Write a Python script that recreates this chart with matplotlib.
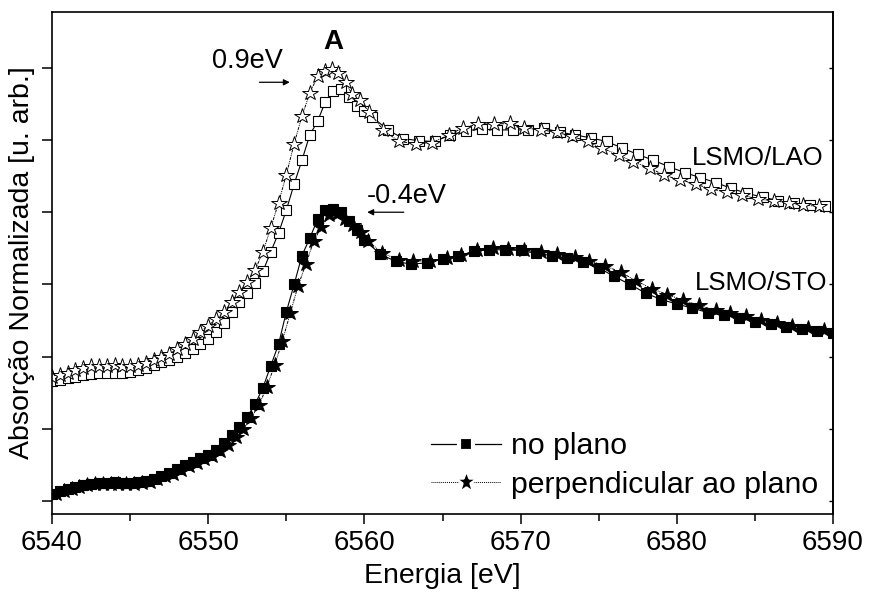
import matplotlib
matplotlib.use("Agg")
import matplotlib.pyplot as plt
from matplotlib.lines import Line2D

plt.rcParams['font.family'] = ['Liberation Sans', 'DejaVu Sans']

# ---- data ----
sto_plano_x = [6540.0, 6540.5, 6541.0, 6541.5, 6542.0, 6542.5, 6543.0, 6543.5, 6544.0, 6544.5,
               6545.0, 6545.5, 6546.0, 6546.5, 6547.0, 6547.5, 6548.0, 6548.5, 6549.0, 6549.5,
               6550.0, 6550.5, 6551.0, 6551.5, 6552.0, 6552.5, 6553.0, 6553.5, 6554.0, 6554.5,
               6555.0, 6555.5, 6556.0, 6556.5, 6557.0, 6557.5, 6558.0, 6558.5, 6559.0, 6559.5,
               6560.0, 6561.0, 6562.0, 6563.0, 6564.0, 6565.0, 6566.0, 6567.0, 6568.0, 6569.0,
               6570.0, 6571.0, 6572.0, 6573.0, 6574.0, 6575.0, 6576.0, 6577.0, 6578.0, 6579.0,
               6580.0, 6581.0, 6582.0, 6583.0, 6584.0, 6585.0, 6586.0, 6587.0, 6588.0, 6589.0, 6590.0]
sto_plano_y = [0.10, 0.14, 0.17, 0.20, 0.22, 0.24, 0.25, 0.25, 0.26, 0.25,
               0.25, 0.26, 0.28, 0.31, 0.35, 0.39, 0.44, 0.50, 0.54, 0.59,
               0.64, 0.71, 0.80, 0.91, 1.03, 1.17, 1.34, 1.57, 1.87, 2.17,
               2.62, 3.00, 3.40, 3.64, 3.90, 4.03, 4.05, 4.01, 3.88, 3.75,
               3.62, 3.42, 3.32, 3.28, 3.30, 3.35, 3.39, 3.46, 3.48, 3.48,
               3.47, 3.43, 3.40, 3.36, 3.31, 3.23, 3.11, 3.00, 2.88, 2.79,
               2.73, 2.67, 2.61, 2.57, 2.54, 2.48, 2.45, 2.41, 2.38, 2.36, 2.33]

sto_perp_x = [6540.25, 6540.75, 6541.25, 6541.75, 6542.25, 6542.75, 6543.25, 6543.75, 6544.25, 6544.75,
              6545.25, 6545.75, 6546.25, 6546.75, 6547.25, 6547.75, 6548.25, 6548.75, 6549.25, 6549.75,
              6550.25, 6550.75, 6551.25, 6551.75, 6552.25, 6552.75, 6553.25, 6553.75, 6554.25, 6554.75,
              6555.25, 6555.75, 6556.25, 6556.75, 6557.25, 6557.75, 6558.25, 6558.75, 6559.25, 6559.75,
              6560.25, 6561.1, 6562.2, 6563.1, 6564.2, 6565.3, 6566.2, 6567.2, 6568.2, 6569.2,
              6570.2, 6571.3, 6572.3, 6573.5, 6574.4, 6575.4, 6576.4, 6577.4, 6578.4, 6579.4,
              6580.4, 6581.4, 6582.5, 6583.4, 6584.4, 6585.4, 6586.4, 6587.4, 6588.4, 6589.4]
sto_perp_y = [0.10, 0.14, 0.17, 0.20, 0.22, 0.23, 0.24, 0.24, 0.24, 0.24,
              0.24, 0.25, 0.27, 0.30, 0.34, 0.38, 0.43, 0.48, 0.53, 0.58,
              0.63, 0.69, 0.78, 0.88, 1.00, 1.15, 1.33, 1.58, 1.88, 2.22,
              2.60, 2.98, 3.28, 3.60, 3.80, 3.96, 3.97, 3.90, 3.82, 3.73,
              3.60, 3.44, 3.34, 3.32, 3.33, 3.36, 3.41, 3.47, 3.50, 3.49,
              3.47, 3.45, 3.42, 3.38, 3.33, 3.26, 3.17, 3.05, 2.94, 2.86,
              2.78, 2.71, 2.64, 2.60, 2.56, 2.51, 2.46, 2.42, 2.40, 2.37]

lao_plano_x = [6540.0, 6540.5, 6541.0, 6541.5, 6542.0, 6542.5, 6543.0, 6543.5, 6544.0, 6544.5,
               6545.0, 6545.5, 6546.0, 6546.5, 6547.0, 6547.5, 6548.0, 6548.5, 6549.0, 6549.5,
               6550.0, 6550.5, 6551.0, 6551.5, 6552.0, 6552.5, 6553.0, 6553.5, 6554.0, 6554.5,
               6555.0, 6555.5, 6556.0, 6556.5, 6557.0, 6557.5, 6558.0, 6558.5, 6559.0, 6559.5,
               6560.0, 6560.5, 6561.5, 6562.5, 6563.5, 6564.5, 6565.5, 6566.5, 6567.5, 6568.5,
               6569.5, 6570.5, 6571.5, 6572.5, 6573.5, 6574.5, 6575.5, 6576.5, 6577.5, 6578.5,
               6579.5, 6580.5, 6581.5, 6582.5, 6583.5, 6584.5, 6585.5, 6586.5, 6587.5, 6588.5, 6589.5]
lao_plano_y = [1.66, 1.68, 1.70, 1.72, 1.74, 1.76, 1.77, 1.77, 1.78, 1.78,
               1.79, 1.81, 1.84, 1.88, 1.92, 1.96, 2.00, 2.05, 2.10, 2.17,
               2.25, 2.34, 2.46, 2.62, 2.76, 2.88, 3.02, 3.18, 3.45, 3.71,
               4.03, 4.39, 4.72, 5.07, 5.26, 5.53, 5.68, 5.70, 5.59, 5.47,
               5.40, 5.32, 5.14, 5.02, 4.99, 4.98, 5.07, 5.13, 5.15, 5.14,
               5.14, 5.14, 5.16, 5.11, 5.07, 5.03, 4.98, 4.89, 4.80, 4.72,
               4.63, 4.55, 4.48, 4.41, 4.33, 4.26, 4.21, 4.16, 4.13, 4.10, 4.08]

lao_perp_x = [6540.0, 6540.5, 6541.0, 6541.5, 6542.0, 6542.5, 6543.0, 6543.5, 6544.0, 6544.5,
              6545.0, 6545.5, 6546.0, 6546.5, 6547.0, 6547.5, 6548.0, 6548.5, 6549.0, 6549.5,
              6550.0, 6550.5, 6551.0, 6551.5, 6552.0, 6552.5, 6553.0, 6553.5, 6554.0, 6554.5,
              6555.0, 6555.5, 6556.0, 6556.5, 6557.0, 6557.5, 6557.9, 6558.3, 6558.8, 6559.2,
              6559.7, 6560.3, 6561.2, 6562.2, 6563.3, 6564.3, 6565.4, 6566.3, 6567.3, 6568.3,
              6569.3, 6570.2, 6571.3, 6572.3, 6573.3, 6574.3, 6575.2, 6576.3, 6577.2, 6578.3,
              6579.2, 6580.2, 6581.2, 6582.2, 6583.2, 6584.2, 6585.2, 6586.2, 6587.2, 6588.1, 6589.1]
lao_perp_y = [1.72, 1.75, 1.78, 1.81, 1.84, 1.87, 1.87, 1.87, 1.88, 1.87,
              1.87, 1.88, 1.91, 1.95, 1.99, 2.04, 2.10, 2.17, 2.25, 2.34,
              2.43, 2.52, 2.62, 2.75, 2.90, 3.04, 3.20, 3.45, 3.78, 4.13,
              4.52, 4.95, 5.33, 5.65, 5.88, 5.96, 5.99, 5.93, 5.80, 5.64,
              5.55, 5.39, 5.14, 4.98, 4.95, 4.96, 5.07, 5.17, 5.22, 5.22,
              5.23, 5.17, 5.14, 5.11, 5.05, 4.98, 4.89, 4.79, 4.70, 4.61,
              4.51, 4.45, 4.39, 4.32, 4.28, 4.24, 4.18, 4.16, 4.13, 4.10, 4.08]

x_ticks = [6540, 6550, 6560, 6570, 6580, 6590]
x_minor = [6545, 6555, 6565, 6575, 6585]
y_ticks = [0, 1, 2, 3, 4, 5, 6]
legend_labels = ["no plano", "perpendicular ao plano"]

# ---- figure ----
fig = plt.figure(figsize=(8.7, 5.97), dpi=100)
ax = fig.add_axes([0.0598, 0.139, 0.8977, 0.8417])

sq_ls = '-'
st_ls = (0, (3, 1, 1, 1, 1, 1))
sq_style = dict(color='black', lw=0.8, ls=sq_ls, marker='s', ms=7.5, mew=0.8)
st_style = dict(color='black', lw=0.7, ls=st_ls, marker='*', ms=11.5, mew=0.7)

ax.plot(lao_plano_x, lao_plano_y, mfc='white', mec='black', **sq_style)
ax.plot(lao_perp_x, lao_perp_y, mfc='white', mec='black', **st_style)
ax.plot(sto_plano_x, sto_plano_y, mfc='black', mec='black', **sq_style)
ax.plot(sto_perp_x, sto_perp_y, mfc='black', mec='black', **st_style)

ax.set_xlim(6540, 6590)
ax.set_ylim(-0.18, 6.78)
ax.set_xticks(x_ticks)
ax.set_xticks(x_minor, minor=True)
ax.set_yticks(y_ticks)
ax.set_yticklabels([])
ax.tick_params(axis='x', which='major', direction='out', length=7.5, width=1.1, labelsize=20, pad=4)
ax.tick_params(axis='x', which='minor', direction='out', length=5, width=1.1)
ax.tick_params(axis='y', which='major', direction='out', length=7.5, width=1.1)
for s in ax.spines.values():
    s.set_linewidth(1.2)

sec = ax.secondary_yaxis('right')
sec.set_yticks(y_ticks)
sec.set_yticklabels([])
sec.tick_params(direction='in', length=3, width=1.0)
sec.spines['right'].set_linewidth(1.2)

ax.set_xlabel("Energia [eV]", fontsize=20.5, labelpad=5)
ax.set_ylabel("Absorção Normalizada [u. arb.]", fontsize=20.5, labelpad=1.5)

ax.text(6558.0, 6.36, "A", fontsize=20, fontweight='bold', ha='center', va='center')
ax.text(6552.5, 6.09, "0.9eV", fontsize=19.5, ha='center', va='center')
ax.annotate("", xy=(6555.4, 5.80), xytext=(6553.1, 5.80),
            arrowprops=dict(arrowstyle='-|>', lw=0.9, color='black', mutation_scale=9))
ax.text(6562.7, 4.22, "-0.4eV", fontsize=19.5, ha='center', va='center')
ax.annotate("", xy=(6560.0, 4.0), xytext=(6562.7, 4.0),
            arrowprops=dict(arrowstyle='-|>', lw=0.9, color='black', mutation_scale=9))
ax.text(6585.2, 4.75, "LSMO/LAO", fontsize=18.5, ha='center', va='center')
ax.text(6585.4, 3.02, "LSMO/STO", fontsize=18.5, ha='center', va='center')

# legend handles: line interrupted around the marker (white marker edge)
lh1 = Line2D([], [], color='black', lw=0.9, ls=sq_ls, marker='s', ms=9.5,
             mfc='black', mec='white', mew=3.0)
lh2 = Line2D([], [], color='black', lw=0.7, ls=(0, (1, 1)), marker='*', ms=17,
             mfc='black', mec='white', mew=1.8)
leg = ax.legend([lh1, lh2], legend_labels, loc='lower right', frameon=False, fontsize=21.8,
                numpoints=1, handlelength=2.3, handletextpad=0.33, labelspacing=0.35,
                borderaxespad=0.3, borderpad=0.2)

fig.savefig("out.png", dpi=100)
